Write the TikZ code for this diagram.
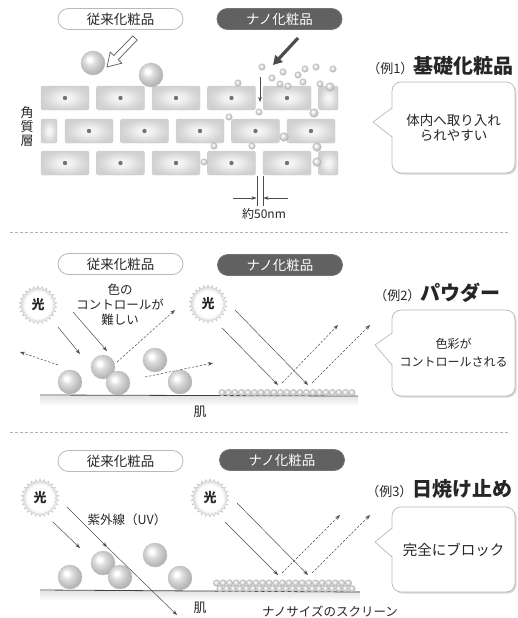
\documentclass[tikz,border=0pt]{standalone}
\usepackage{fontspec}
\setmainfont{Noto Sans CJK JP}
\usetikzlibrary{arrows.meta,shapes.geometric,shadows}
\newcommand\fsz[1]{\fontsize{#1}{#1}\selectfont}
% soft glow for the cells, pearly spheres, light burst
\pgfdeclareradialshading{brickglow}{\pgfpointorigin}{color(0bp)=(gray!4); color(9bp)=(gray!13); color(18bp)=(gray!27); color(25bp)=(gray!36); color(50bp)=(gray!40)}
\pgfdeclareradialshading{pearl}{\pgfqpoint{-8bp}{8bp}}{color(0bp)=(white); color(4bp)=(white); color(11bp)=(gray!25); color(20bp)=(gray!45); color(29bp)=(gray!62); color(40bp)=(gray!70); color(60bp)=(gray!70)}
\pgfdeclareradialshading{sunglow}{\pgfpointorigin}{color(0bp)=(white); color(17bp)=(white); color(25bp)=(gray!35); color(50bp)=(gray!35)}

\begin{document}
\begin{tikzpicture}[x=1pt,y=-1pt,
  every node/.style={text=black!85},
  pillold/.style={draw=gray!55, line width=0.8pt, fill=white, rounded corners=10.5pt, minimum width=125pt, minimum height=21pt, inner sep=0pt, font=\fsz{13.5}},
  pillnano/.style={pillold, draw=black!55, fill=black!62, text=white},
  brick/.style={shading=brickglow, draw=gray!40, line width=0.4pt, rounded corners=2pt},
  core/.style={fill=black!55},
  pearl/.style={shading=pearl, draw=gray!55, line width=0.3pt},
  sun/.style={star, star points=26, star point ratio=1.22, minimum size=38pt, inner sep=0pt, shade, shading=sunglow, draw=gray!45, line width=0.4pt, font=\fsz{13}\bfseries},
  ray/.style={draw=black!70, line width=0.5pt, -{Stealth[length=5pt,width=3.6pt]}},
  bounce/.style={ray, dash pattern=on 2.4pt off 1.6pt},
  skin/.style={draw=black!75, line width=0.8pt},
  skinshade/.style={top color=gray!22, bottom color=white},
  bubble/.style={draw=gray!55, line width=0.7pt, fill=white, rounded corners=9pt, minimum width=123pt, inner sep=0pt, align=center, drop shadow={shadow xshift=1.6pt, shadow yshift=-1.6pt, fill=gray!70, opacity=0.45}},
  tail/.style={draw=gray!55, line width=0.7pt},
  label/.style={font=\fontsize{12.5}{15}\selectfont, align=center},
  sep/.style={draw=gray!60, line width=0.5pt, dash pattern=on 3pt off 2pt}
]
\useasboundingbox (0,0) rectangle (518,618);

%% ---------- part 1: skin cells ----------
\node[pillold]  (old1)  at (120.5,19) {従来化粧品};
\node[pillnano] (nano1) at (279.5,19) {ナノ化粧品};

\foreach \x in {41,96.5,152,207.5,263} {
  \foreach \y in {86,151} {
    \shadedraw[brick] (\x,\y) rectangle ++(48,24);
    \fill[core] (\x+24,\y+12) circle (2.2pt);
  }
}
\foreach \y in {86,151} \shadedraw[brick] (318.5,\y) rectangle ++(19.5,24);
\shadedraw[brick] (41,119) rectangle ++(16,24);
\foreach \x in {65,120.5,176,231.5,287} {
  \shadedraw[brick] (\x,119) rectangle ++(48,24);
  \fill[core] (\x+24,131) circle (2.2pt);
}

\node[font=\fontsize{13}{14}\selectfont, align=center] (layer) at (27,127) {角\\質\\層};

% large particles resting on top
\shadedraw[pearl] (93,63) circle (12pt);
\shadedraw[pearl] (151,75) circle (12pt);

% hollow arrow
\draw[draw=black!65, fill=white, line width=0.7pt, line join=miter]
  (107,67) -- (121.8,63.2) -- (118.2,59.7) -- (137.2,40.1) -- (132.8,35.9) -- (113.8,55.5) -- (110.2,52.0) -- cycle;

% solid arrow
\coordinate (da0) at (298,38);
\coordinate (da1) at (273,65);
\draw[line width=3.2pt, black!70, -{Triangle[length=9pt,width=10pt]}] (da0) -- (da1);

% nano particles slipping between cells
\foreach \x/\y/\r in {262/67/3.3, 238/83/3.3, 272/78/3.3, 283/72/3.3, 280/84/3.3, 288/86/3.3,
  298/75/3.3, 303/82/3.3, 305/69/3.3, 316/67/3.3, 333/69/3.3, 320/84/3.3, 330/87/4.4,
  259/112/3.3, 229/117/3.3, 314/113/4.4, 284/137/4.4, 214/146/3.3, 252/146/3.3,
  317/147/4.4, 204/162/3.3, 317/162/4.4}
  \shadedraw[pearl] (\x,\y) circle (\r pt);

\coordinate (dn0) at (260,77);
\coordinate (dn1) at (260,102);
\draw[ray] (dn0) -- (dn1);

% gap dimension
\coordinate (g1a) at (257,176); \coordinate (g1b) at (257,206);
\coordinate (g2a) at (263,176); \coordinate (g2b) at (263,206);
\draw[black!70, line width=0.5pt] (g1a) -- (g1b) (g2a) -- (g2b);
\coordinate (ga0) at (233,198); \coordinate (ga1) at (256.5,198);
\coordinate (gb0) at (288,198); \coordinate (gb1) at (263.5,198);
\draw[ray] (ga0) -- (ga1);
\draw[ray] (gb0) -- (gb1);
\node[font=\fsz{12}] (gap) at (264,214) {約50nm};

\node[anchor=east] (ex1) at (517,66) {\fsz{13}（例1）\fsz{20}\bfseries 基礎化粧品};
\node[bubble, minimum height=91pt, font=\fontsize{13.5}{15}\selectfont] (b1) at (453.5,127.5) {体内へ取り入れ\\られやすい};
\fill[white] (393,108.6) -- (373,122) -- (393,136.4) -- cycle;
\draw[tail] (392,108) -- (373,122) -- (392,137);

\draw[sep] (10,232) -- (510,232);

%% ---------- part 2: powder ----------
\node[pillold]  (old2)  at (120.5,264) {従来化粧品};
\node[pillnano] (nano2) at (280,265) {ナノ化粧品};

\shade[skinshade] (40,396) rectangle (358,406);
\draw[skin] (40,395) -- (358,396);
\node[font=\fsz{13}] (skin2) at (200,412) {肌};

\node[sun] (sun2a) at (38,305) {光};
\node[sun] (sun2b) at (208,304) {光};
\node[label] (hard) at (120,305) {色の\\コントロールが\\難しい};

\coordinate (p1) at (58,327);  \coordinate (p2) at (80,354);
\coordinate (p3) at (73,312);  \coordinate (p4) at (107,351);
\draw[ray] (p1) -- (p2);
\draw[ray] (p3) -- (p4);
\coordinate (q1) at (58,365);  \coordinate (q2) at (20,352);
\coordinate (q3) at (117,362); \coordinate (q4) at (175,310);
\coordinate (q5) at (145,377); \coordinate (q6) at (213,363);
\draw[bounce] (q1) -- (q2);
\draw[bounce] (q3) -- (q4);
\draw[bounce] (q5) -- (q6);

\foreach \x/\y in {70/382, 103/367, 118/383, 155/360, 180/382}
  \shadedraw[pearl] (\x,\y) circle (12pt);

\foreach \i in {0,...,20}
  \shadedraw[pearl] (222+6.5*\i,392.6) circle (3.3pt);

\coordinate (r1) at (222,328); \coordinate (r2) at (278,385);
\coordinate (r3) at (235,310); \coordinate (r4) at (308,385);
\draw[ray] (r1) -- (r2);
\draw[ray] (r3) -- (r4);
\coordinate (s1) at (282,383); \coordinate (s2) at (338,325);
\coordinate (s3) at (312,383); \coordinate (s4) at (370,325);
\draw[bounce] (s1) -- (s2);
\draw[bounce] (s3) -- (s4);

\node[anchor=east] (ex2) at (504,293) {\fsz{13}（例2）\fsz{20}\bfseries パウダー};
\node[bubble, minimum height=86pt, font=\fontsize{12}{18}\selectfont] (b2) at (453.5,353) {色彩が\\コントロールされる};
\fill[white] (393,333.6) -- (375,345) -- (393,364.4) -- cycle;
\draw[tail] (392,333) -- (375,345) -- (392,365);

\draw[sep] (10,432) -- (510,432);

%% ---------- part 3: sunscreen ----------
\node[pillold]  (old3)  at (120.5,461) {従来化粧品};
\node[pillnano] (nano3) at (282,460) {ナノ化粧品};

\shade[skinshade] (40,591) rectangle (360,601);
\draw[skin] (40,590) -- (360,592);
\node[font=\fsz{13}] (skin3) at (200,608) {肌};

\node[sun] (sun3a) at (40,498) {光};
\node[sun] (sun3b) at (210,498) {光};
\node[label] (uv) at (127,520) {紫外線（UV）};

\coordinate (u1) at (53,522);  \coordinate (u2) at (80,548);
\coordinate (u3) at (67,507);  \coordinate (u4) at (107,547);
\coordinate (u5) at (177,615);
\draw[ray] (u1) -- (u2);

\foreach \x/\y in {70/577, 103/563, 120/577, 155/555, 180/578}
  \shadedraw[pearl] (\x,\y) circle (12pt);

\draw[ray] (u3) -- (u4);
\draw[ray] (u4) -- (u5);

\foreach \i in {0,...,20}
  \shadedraw[pearl] (216.5+6.6*\i,583) circle (3.3pt);
\foreach \i in {0,...,20}
  \shadedraw[pearl] (220+6.6*\i,588.7) circle (3.3pt);

\coordinate (v1) at (225,522); \coordinate (v2) at (278,575);
\coordinate (v3) at (237,503); \coordinate (v4) at (308,575);
\draw[ray] (v1) -- (v2);
\draw[ray] (v3) -- (v4);
\coordinate (w1) at (282,573); \coordinate (w2) at (340,515);
\coordinate (w3) at (312,573); \coordinate (w4) at (370,515);
\draw[bounce] (w1) -- (w2);
\draw[bounce] (w3) -- (w4);

\node[label] (screen) at (330,611) {ナノサイズのスクリーン};

\node[anchor=east] (ex3) at (516,489) {\fsz{13}（例3）\fsz{20}\bfseries 日焼け止め};
\node[bubble, minimum height=85pt, font=\fsz{14.5}] (b3) at (453.5,549.5) {完全にブロック};
\fill[white] (393,528.6) -- (375,542) -- (393,556.4) -- cycle;
\draw[tail] (392,528) -- (375,542) -- (392,557);

\end{tikzpicture}
\end{document}
